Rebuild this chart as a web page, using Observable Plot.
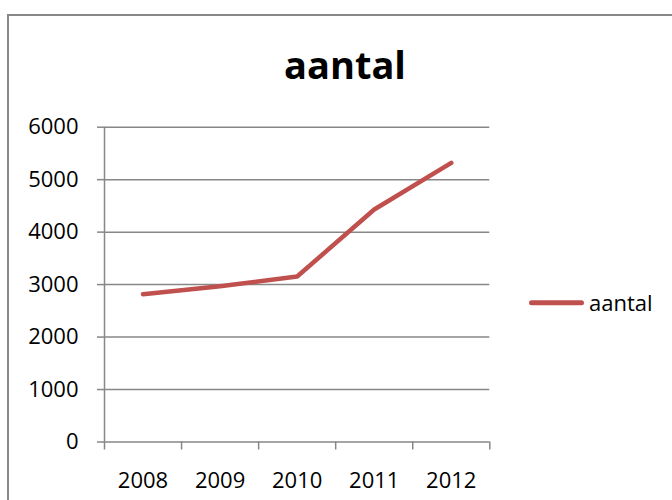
<!DOCTYPE html>
<html><head><meta charset="utf-8">
<script src="https://cdn.jsdelivr.net/npm/d3@7"></script>
<script src="https://cdn.jsdelivr.net/npm/@observablehq/plot@0.6"></script>
<style>
body{margin:0;background:#fff;}
#wrap{position:relative;width:672px;height:500px;overflow:hidden;background:#fff;font-family:"Open Sans",sans-serif;color:#000;}
#border{position:absolute;left:7px;top:14px;width:720px;height:540px;border:2px solid #888;box-sizing:border-box;}
#chart{position:absolute;left:0;top:0;}
#title{position:absolute;left:0;top:45px;width:690px;text-align:center;font-weight:700;font-size:38px;line-height:1;}
#legswatch{position:absolute;left:524px;top:297px;}
#legtext{position:absolute;left:589px;top:291px;font-size:22px;line-height:1;}
</style>
</head><body>
<div id="wrap">
  <div id="border"></div>
  <div id="chart"></div>
  <div id="title"></div>
  <svg id="legswatch" width="66" height="12"><line id="legline" x1="7.5" x2="57.5" y1="5.7" y2="5.7" stroke-width="5" stroke-linecap="round"></line></svg>
  <div id="legtext"></div>
</div>
<script>
const years = [2008, 2009, 2010, 2011, 2012];
const xLabels = ["2008", "2009", "2010", "2011", "2012"];
const aantal = [2817, 2970, 3154, 4431, 5321];
const yTicks = [0, 1000, 2000, 3000, 4000, 5000, 6000];
const seriesName = "aantal";
const chartTitle = "aantal";
const lineColor = "#C0504D";
const gridColor = "#878787";

const data = years.map((year, i) => ({year, value: aantal[i]}));
const bandEdges = d3.range(years.length + 1).map(i => years[0] - 0.5 + i);

const plot = Plot.plot({
  width: 672, height: 500,
  marginLeft: 104, marginRight: 182.7, marginTop: 126.7, marginBottom: 58.5,
  style: {fontFamily: "Open Sans", fontSize: "22px", color: "#000", background: "transparent", overflow: "visible"},
  x: {domain: [bandEdges[0], bandEdges[bandEdges.length - 1]]},
  y: {domain: [yTicks[0], yTicks[yTicks.length - 1]]},
  marks: [
    Plot.ruleY(yTicks, {stroke: gridColor, strokeWidth: 1.5}),
    Plot.ruleX([bandEdges[0]], {stroke: gridColor, strokeWidth: 1.5}),
    Plot.axisY({ticks: yTicks, tickSize: 7, tickPadding: 19, tickFormat: d => String(d), stroke: gridColor, strokeWidth: 1.5, label: null}),
    Plot.axisX({ticks: bandEdges, tickSize: 8, tickFormat: () => "", stroke: gridColor, strokeWidth: 1.5, label: null}),
    Plot.axisX({ticks: years, tickSize: 0, tickPadding: 30, tickFormat: d => xLabels[years.indexOf(d)], label: null}),
    Plot.line(data, {x: "year", y: "value", stroke: lineColor, strokeWidth: 4.5, strokeLinecap: "round", strokeLinejoin: "round"})
  ]
});
document.getElementById("chart").appendChild(plot);
document.getElementById("title").textContent = chartTitle;
document.getElementById("legtext").textContent = seriesName;
document.getElementById("legline").setAttribute("stroke", lineColor);
</script>
</body></html>
